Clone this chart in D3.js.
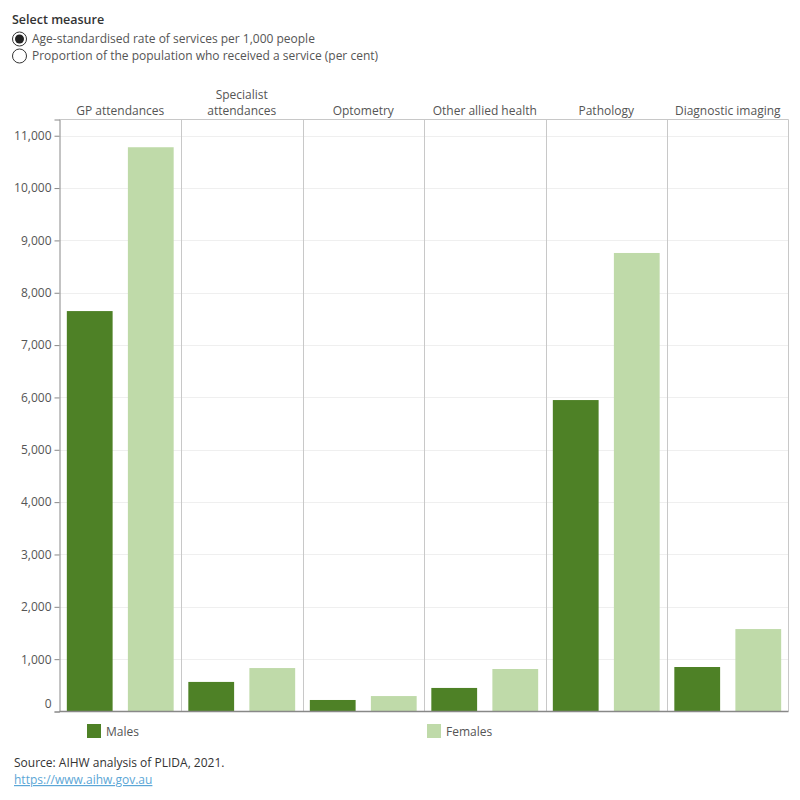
<!DOCTYPE html>
<html>
<head>
<meta charset="utf-8">
<script src="https://cdn.jsdelivr.net/npm/d3@7"></script>
<style>
	body { margin: 0; background: #fff; font-family: 'Open Sans', 'Noto Sans', sans-serif; }
	svg { display: block; }
</style>
</head>
<body>
<div class="chart"></div>
<script>
// chart data
const categories = ['GP attendances', 'Specialist attendances', 'Optometry', 'Other allied health', 'Pathology', 'Diagnostic imaging'];
const headerLines = [['GP attendances'], ['Specialist', 'attendances'], ['Optometry'], ['Other allied health'], ['Pathology'], ['Diagnostic imaging']];
const sexes = ['Males', 'Females'];
const males = [7650, 565, 220, 450, 5950, 850];
const females = [10780, 830, 295, 812, 8760, 1575];
const yTicks = [0, 1000, 2000, 3000, 4000, 5000, 6000, 7000, 8000, 9000, 10000, 11000];
const measures = ['Age-standardised rate of services per 1,000 people', 'Proportion of the population who received a service (per cent)'];

let w = 800;
let h = 800;
let padLeft = 59.5;
let padRight = 788.5;
let padTop = 119.5;
let padBottom = 711.5;
let colours = { Males: '#4e8126', Females: '#bfdaa9' };
let textCol = '#555';

let svg = d3.select('.chart').append('svg').attr('width', w).attr('height', h);

// measure selector
svg
	.append('text')
	.attr('x', 12)
	.attr('y', 24)
	.attr('font-size', '12.5px')
	.attr('font-weight', 600)
	.attr('fill', '#333')
	.text('Select measure');

measures.forEach((m, i) => {
	let cy = 39 + i * 17;
	svg.append('circle').attr('cx', 19.5).attr('cy', cy).attr('r', 7).attr('fill', '#fff').attr('stroke', '#333').attr('stroke-width', 1);
	if (i == 0) svg.append('circle').attr('cx', 19.5).attr('cy', cy).attr('r', 4.5).attr('fill', '#222');
	svg
		.append('text')
		.attr('x', 32)
		.attr('y', cy + 4)
		.attr('font-size', '12px')
		.attr('fill', textCol)
		.text(m);
});

// scales
let xOuter = d3.scaleBand().domain(categories).range([ padLeft, padRight ]);
let xInner = d3.scaleBand().domain(sexes).range([ 0, xOuter.bandwidth() ]).paddingInner(0.25).paddingOuter(0.12);
let yScale = d3.scaleLinear().domain([ 0, 11310 ]).range([ padBottom, padTop ]);

// gridlines
svg
	.append('g')
	.selectAll('line')
	.data(yTicks.slice(1))
	.enter()
	.append('line')
	.attr('x1', padLeft)
	.attr('x2', padRight)
	.attr('y1', (d) => Math.round(yScale(d)) + 0.5)
	.attr('y2', (d) => Math.round(yScale(d)) + 0.5)
	.attr('stroke', '#efefef');

// panel separators and frame
svg
	.append('g')
	.selectAll('line')
	.data(categories.slice(1))
	.enter()
	.append('line')
	.attr('x1', (d) => Math.round(xOuter(d)) + 0.5)
	.attr('x2', (d) => Math.round(xOuter(d)) + 0.5)
	.attr('y1', padTop)
	.attr('y2', padBottom)
	.attr('stroke', '#c8c8c8');
svg.append('line').attr('x1', padLeft).attr('x2', padRight).attr('y1', padTop).attr('y2', padTop).attr('stroke', '#c8c8c8');
svg.append('line').attr('x1', padRight).attr('x2', padRight).attr('y1', padTop).attr('y2', padBottom).attr('stroke', '#c8c8c8');

// bars
let rows = [];
categories.forEach((c, i) => {
	rows.push({ cat: c, sex: 'Males', value: males[i] });
	rows.push({ cat: c, sex: 'Females', value: females[i] });
});

svg
	.selectAll('rect.bar')
	.data(rows)
	.enter()
	.append('rect')
	.attr('class', 'bar')
	.attr('x', (d) => xOuter(d.cat) + xInner(d.sex))
	.attr('y', (d) => yScale(d.value))
	.attr('width', xInner.bandwidth())
	.attr('height', (d) => padBottom - yScale(d.value))
	.attr('fill', (d) => colours[d.sex])
	.append('title')
	.text((d) => `${d.cat}, ${d.sex}: ${d3.format(',')(d.value)}`);

// y axis
let yAxis = svg
	.append('g')
	.attr('transform', 'translate(' + padLeft + ',0)')
	.call(d3.axisLeft(yScale).tickValues(yTicks).tickFormat(d3.format(',')).tickSize(5).tickPadding(3));
yAxis.select('.domain').attr('stroke', '#888');
yAxis.selectAll('.tick line').attr('stroke', '#888');
yAxis
	.selectAll('.tick text')
	.attr('font-family', "'Open Sans', 'Noto Sans', sans-serif")
	.attr('font-size', '12px')
	.attr('fill', textCol)
	.attr('dy', (d) => (d == 0 ? '-0.35em' : '0.32em'));

// x baseline
svg.append('line').attr('x1', padLeft).attr('x2', padRight).attr('y1', padBottom).attr('y2', padBottom).attr('stroke', '#888').attr('stroke-width', 1.5);

// column headers
categories.forEach((c, i) => {
	let lines = headerLines[i];
	let t = svg
		.append('text')
		.attr('x', xOuter(c) + xOuter.bandwidth() / 2)
		.attr('text-anchor', 'middle')
		.attr('font-size', '12px')
		.attr('fill', textCol);
	lines.forEach((l, j) => {
		t.append('tspan').attr('x', xOuter(c) + xOuter.bandwidth() / 2).attr('y', 115 - (lines.length - 1 - j) * 16).text(l);
	});
});

// legend
let legendX = [ 87, 427 ];
sexes.forEach((s, i) => {
	svg.append('rect').attr('x', legendX[i]).attr('y', 724).attr('width', 14).attr('height', 14).attr('fill', colours[s]);
	svg
		.append('text')
		.attr('x', legendX[i] + 19)
		.attr('y', 736)
		.attr('font-size', '12px')
		.attr('fill', textCol)
		.text(s);
});

// source
svg
	.append('text')
	.attr('x', 14)
	.attr('y', 767)
	.attr('font-size', '12px')
	.attr('fill', '#333')
	.text('Source: AIHW analysis of PLIDA, 2021.');
svg
	.append('text')
	.attr('x', 14)
	.attr('y', 784)
	.attr('font-size', '12px')
	.attr('fill', '#5ba6d6')
	.attr('text-decoration', 'underline')
	.text('https://www.aihw.gov.au');
</script>
</body>
</html>
